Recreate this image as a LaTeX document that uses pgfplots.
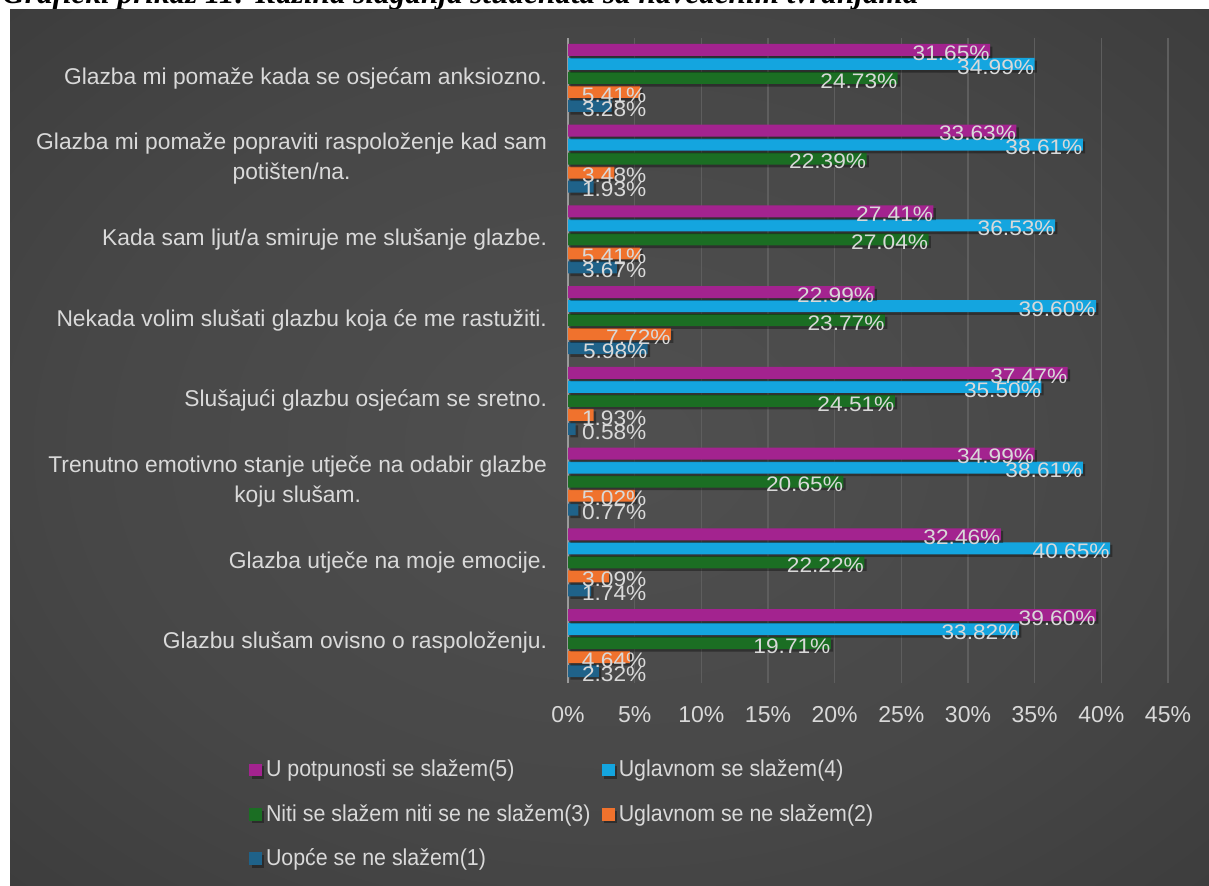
\documentclass[border=0pt]{standalone}
\usepackage{fontspec}
\setmainfont{Liberation Sans}
\newfontfamily\serifit{Liberation Serif}
\newfontfamily\narrowfont[FakeStretch=0.93]{Liberation Sans}
\newfontfamily\lblfont[FakeStretch=1.08]{Liberation Sans}
\usepackage{pgfplots}
\pgfplotsset{compat=1.18}
\definecolor{cA}{HTML}{A3238F}
\definecolor{cB}{HTML}{14A5DF}
\definecolor{cC}{HTML}{1B6E23}
\definecolor{cD}{HTML}{F0722D}
\definecolor{cE}{HTML}{1F6289}
\definecolor{lbl}{HTML}{D9D9D9}
\definecolor{gridc}{HTML}{5E5E5E}
\definecolor{axc}{HTML}{9A9A9A}
\definecolor{bgA}{HTML}{505050}
\definecolor{bgB}{HTML}{474747}
\definecolor{bgC}{HTML}{363636}
\definecolor{bgD}{HTML}{262626}
\pgfdeclareradialshading{bgshade}{\pgfpoint{0bp}{0bp}}{color(0bp)=(bgA); color(22bp)=(bgB); color(45bp)=(bgC); color(72bp)=(bgD)}
\tikzset{barsty/.style={draw=none, fill=#1,
  preaction={fill=black, fill opacity=0.35, transform canvas={shift={(1.2pt,-1.3pt)}}}}}

% y = 7 is the top category, y = 0 the bottom one
\pgfplotstableread{
y  v5    v4    v3    v2   v1
7  31.65 34.99 24.73 5.41 3.28
6  33.63 38.61 22.39 3.48 1.93
5  27.41 36.53 27.04 5.41 3.67
4  22.99 39.60 23.77 7.72 5.98
3  37.47 35.50 24.51 1.93 0.58
2  34.99 38.61 20.65 5.02 0.77
1  32.46 40.65 22.22 3.09 1.74
0  39.60 33.82 19.71 4.64 2.32
}\datatable

\begin{document}
\begin{tikzpicture}[x=0.5pt,y=-0.5pt]
\useasboundingbox (0,0) rectangle (1209,885);
\clip (0,0) rectangle (1209,885);
\fill[white] (0,0) rectangle (1209,885);
\node[anchor=base west, inner sep=0, font=\serifit\bfseries\itshape\fontsize{15.6}{17}\selectfont] at (2,3) {Grafički prikaz 11: Razina slaganja studenata sa navedenim tvrdnjama};
\shade[shading=bgshade] (10,9) rectangle (1209,885);
\begin{axis}[
  at={(284pt,-341.7pt)}, anchor=south west,
  scale only axis, width=300pt, height=322.9pt,
  xmin=0, xmax=45, ymin=-0.5, ymax=7.5,
  xbar=1pt, bar width=6pt,
  axis line style={draw=none},
  xtick={0,5,...,45},
  xticklabel={\pgfmathprintnumber{\tick}\%},
  /pgf/number format/assume math mode=true,
  xticklabel style={font=\fontsize{11.5}{13}\selectfont, text=lbl, yshift=-8pt},
  ytick={0,...,7},
  yticklabels={
    {Glazbu slušam ovisno o raspoloženju.},
    {Glazba utječe na moje emocije.},
    {Trenutno emotivno stanje utječe na odabir glazbe\\koju slušam.},
    {Slušajući glazbu osjećam se sretno.},
    {Nekada volim slušati glazbu koja će me rastužiti.},
    {Kada sam ljut/a smiruje me slušanje glazbe.},
    {Glazba mi pomaže popraviti raspoloženje kad sam\\potišten/na.},
    {Glazba mi pomaže kada se osjećam anksiozno.}},
  yticklabel style={font=\fontsize{11.4}{15}\selectfont, text=lbl, align=center, xshift=-7pt},
  major tick length=0pt,
  xmajorgrids, grid style={line width=0.8pt, color=gridc},
  extra x ticks={0}, extra x tick labels={},
  extra x tick style={grid style={line width=1pt, color=axc}},
  visualization depends on={x \as \rawx},
  nodes near coords={\textcolor{lbl}{\pgfmathprintnumber[fixed,fixed zerofill,precision=2]{\rawx}\%}},
  every node near coord/.append style={anchor=east, inner sep=0pt, font=\lblfont\fontsize{10.5}{12}\selectfont, text=lbl, xshift={max(0,5.9-\rawx)*6.68pt}, yshift=-1.5pt},
  legend columns=2, reverse legend,
  legend style={at={(-0.532,-0.112)}, anchor=north west, draw=none, fill=none, inner sep=0pt,
    font=\narrowfont\fontsize{11.5}{13}\selectfont, text=lbl, row sep=8.3pt,
    /tikz/every even column/.append style={column sep=0pt}},
  legend cell align=left,
  legend image code/.code={\fill[#1] (0pt,-3.2pt) rectangle (6.4pt,3.2pt);},
]
\addplot[barsty=cE] table[x=v1, y=y] {\datatable};
\addlegendentry{\makebox[166pt][l]{Uopće se ne slažem(1)}}
\addplot[barsty=cD] table[x=v2, y=y] {\datatable};
\addlegendentry{Uglavnom se ne slažem(2)}
\addplot[barsty=cC] table[x=v3, y=y] {\datatable};
\addlegendentry{\makebox[166pt][l]{Niti se slažem niti se ne slažem(3)}}
\addplot[barsty=cB] table[x=v4, y=y] {\datatable};
\addlegendentry{Uglavnom se slažem(4)}
\addplot[barsty=cA] table[x=v5, y=y] {\datatable};
\addlegendentry{\makebox[166pt][l]{U potpunosti se slažem(5)}}
\end{axis}
\end{tikzpicture}
\end{document}
